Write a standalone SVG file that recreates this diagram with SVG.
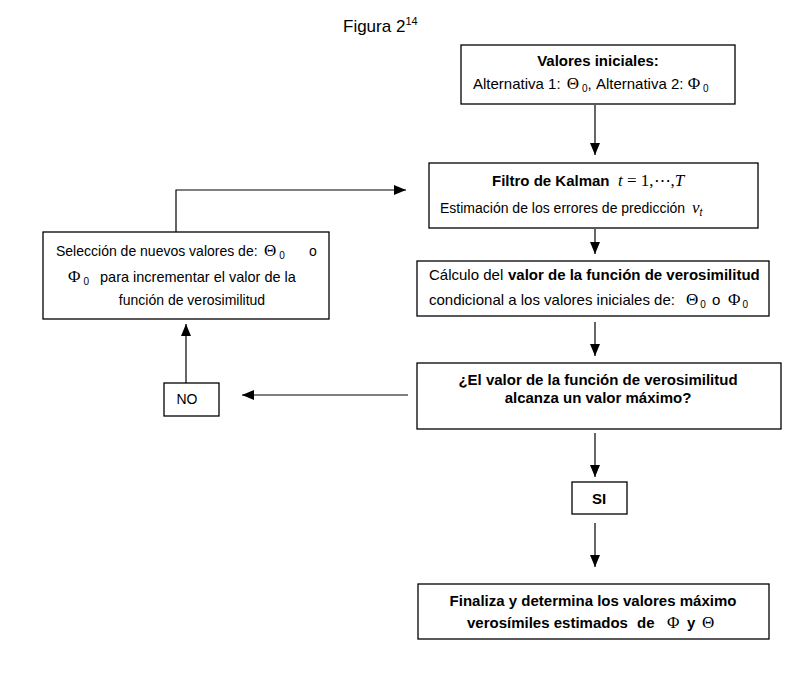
<svg xmlns="http://www.w3.org/2000/svg" width="808" height="679" viewBox="0 0 808 679">
<style>
.box{fill:#fff;stroke:#000;stroke-width:1.3}
.t{font-family:"Liberation Sans",Arial,sans-serif;font-size:14px;fill:#000}
.r15{font-size:15px}
.b{font-weight:bold;font-size:15px}
.m{font-family:"Liberation Serif","Times New Roman",serif;font-size:17px;font-weight:normal}
.s{font-family:"Liberation Sans",Arial,sans-serif;font-size:10px;font-weight:normal}
.ln{fill:none;stroke:#000;stroke-width:1.2}
</style>
<defs>
<marker id="ah" viewBox="0 0 12 10" refX="12" refY="5" markerWidth="12" markerHeight="10" markerUnits="userSpaceOnUse" orient="auto">
<path d="M0,0 L12,5 L0,10 Z" fill="#000"/>
</marker>
</defs>
<rect width="808" height="679" fill="#fff"/>
<text class="t" x="343" y="32" style="font-size:17px">Figura 2<tspan dy="-7" style="font-size:11px">14</tspan></text>

<g id="connectors">
<line class="ln" x1="595" y1="105" x2="595" y2="155" marker-end="url(#ah)"/>
<line class="ln" x1="595" y1="229" x2="595" y2="254" marker-end="url(#ah)"/>
<line class="ln" x1="595" y1="322" x2="595" y2="356" marker-end="url(#ah)"/>
<line class="ln" x1="408" y1="395" x2="242" y2="395" marker-end="url(#ah)"/>
<line class="ln" x1="186" y1="383" x2="186" y2="324" marker-end="url(#ah)"/>
<polyline class="ln" points="176,232 176,190 406,190" marker-end="url(#ah)"/>
<line class="ln" x1="595" y1="433" x2="595" y2="477" marker-end="url(#ah)"/>
<line class="ln" x1="595" y1="523" x2="595" y2="567" marker-end="url(#ah)"/>
</g>

<g id="n1">
<rect class="box" x="461" y="45" width="274" height="59"/>
<text class="t b" x="598" y="66" text-anchor="middle">Valores iniciales:</text>
<text class="t r15" x="473" y="89">Alternativa 1: <tspan class="m" dx="2">Θ</tspan><tspan class="s" dx="3" dy="3">0</tspan><tspan dy="-3">, Alternativa 2: </tspan><tspan class="m">Φ</tspan><tspan class="s" dx="3" dy="3">0</tspan></text>
</g>

<g id="n2">
<rect class="box" x="429" y="163" width="329" height="65"/>
<text class="t" x="492" y="186"><tspan class="b">Filtro de Kalman</tspan><tspan class="m" x="618" font-style="italic">t</tspan><tspan class="m"> = 1,⋯,</tspan><tspan class="m" font-style="italic">T</tspan></text>
<text class="t" x="440" y="213">Estimación de los errores de predicción<tspan class="m" font-style="italic" x="692">v</tspan><tspan class="s" font-style="italic" dy="3">t</tspan></text>
</g>

<g id="n3">
<rect class="box" x="417" y="261" width="352" height="55"/>
<text class="t r15" x="429" y="280">Cálculo del<tspan class="b" x="508">valor de la función de verosimilitud</tspan></text>
<text class="t r15" x="429" y="305">condicional a los valores iniciales de:<tspan class="m" x="686">Θ</tspan><tspan class="s" dx="2" dy="3">0</tspan><tspan x="712" dy="-3">o</tspan><tspan class="m" x="728">Φ</tspan><tspan class="s" dx="2" dy="3">0</tspan></text>
</g>

<g id="n4">
<rect class="box" x="417" y="363" width="364" height="66"/>
<text class="t b" x="598" y="385" text-anchor="middle">¿El valor de la función de verosimilitud</text>
<text class="t b" x="598" y="403" text-anchor="middle">alcanza un valor máximo?</text>
</g>

<g id="n5">
<rect class="box" x="43" y="232" width="286" height="87"/>
<text class="t" x="56" y="256">Selección de nuevos valores de:<tspan class="m" x="264">Θ</tspan><tspan class="s" dx="3" dy="3">0</tspan><tspan x="309" dy="-3">o</tspan></text>
<text class="t" x="68" y="282" style="font-size:14.5px"><tspan class="m">Φ</tspan><tspan class="s" dx="3" dy="3">0</tspan><tspan x="100" dy="-3">para incrementar el valor de la</tspan></text>
<text class="t" x="192" y="305" text-anchor="middle">función de verosimilitud</text>
</g>

<g id="n6">
<rect class="box" x="164" y="383" width="55" height="33"/>
<text class="t" x="187" y="404" text-anchor="middle">NO</text>
</g>

<g id="n7">
<rect class="box" x="572" y="482" width="55" height="32"/>
<text class="t b" x="599" y="504" text-anchor="middle">SI</text>
</g>

<g id="n8">
<rect class="box" x="418" y="584" width="351" height="55"/>
<text class="t b" x="593" y="606" text-anchor="middle">Finaliza y determina los valores máximo</text>
<text class="t b" x="467" y="628">verosímiles estimados<tspan x="637">de</tspan><tspan class="m" x="667">Φ</tspan><tspan x="687">y</tspan><tspan class="m" x="702">Θ</tspan></text>
</g>
</svg>
